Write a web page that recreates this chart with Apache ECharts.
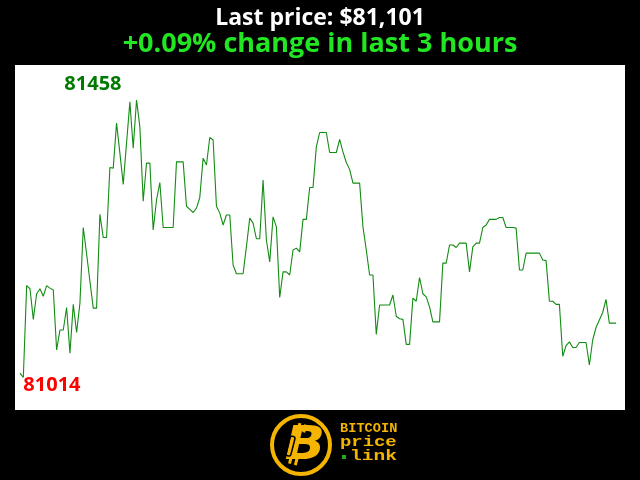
<!DOCTYPE html>
<html>
<head>
<meta charset="utf-8">
<script src="https://cdn.jsdelivr.net/npm/echarts@6/dist/echarts.min.js"></script>
<style>html,body{margin:0;padding:0;background:#000;}#chart{width:640px;height:480px;}</style>
</head>
<body>
<div id="chart"></div>
<script>
// Title texts
const titleLine1 = 'Last price: $81,101';
const titleLine2 = '+0.09% change in last 3 hours';

// Price samples (one per minute over last 3 hours)
const prices = [
81021,81014,81161,81156,81107,81148,81156,81144,81161,81157,
81154,81058,81090,81090,81126,81053,81131,81086,81133,81254,
81212,81168,81125,81125,81275,81238,81238,81350,81349,81421,
81373,81323,81389,81455,81381,81458,81415,81296,81357,81357,
81250,81298,81326,81254,81254,81254,81254,81359,81359,81359,
81288,81283,81278,81285,81302,81365,81354,81398,81394,81288,
81277,81258,81274,81274,81194,81180,81180,81180,81223,81269,
81261,81236,81236,81330,81234,81199,81271,81255,81142,81183,
81183,81178,81218,81221,81215,81267,81267,81318,81318,81383,
81406,81406,81406,81374,81374,81374,81395,81375,81358,81347,
81325,81325,81325,81255,81218,81178,81178,81083,81130,81130,
81130,81130,81146,81112,81108,81107,81067,81067,81141,81136,
81174,81148,81143,81127,81103,81103,81103,81197,81197,81226,
81226,81222,81229,81229,81229,81183,81223,81229,81229,81254,
81258,81267,81267,81267,81270,81270,81254,81254,81254,81253,
81186,81186,81213,81213,81213,81213,81213,81202,81201,81136,
81136,81131,81131,81048,81065,81071,81062,81062,81070,81070,
81070,81034,81074,81094,81106,81118,81139,81101,81101,81101
];

const seriesData = prices.map((v, i) => [i, v]);

const chart = echarts.init(document.getElementById('chart'), null, {renderer: 'canvas'});
const gold = '#f4b400';
chart.setOption({
  backgroundColor: '#000000',
  animation: false,
  title: [
    {text: titleLine1, left: 'center', top: 2,
     textStyle: {color: '#ffffff', fontSize: 23, fontWeight: 'bold', fontFamily: 'Open Sans'}},
    {text: titleLine2, left: 'center', top: 26,
     textStyle: {color: '#22e622', fontSize: 27, fontWeight: 'bold', fontFamily: 'Open Sans'}}
  ],
  grid: {left: 15, right: 15, top: 65, bottom: 70, show: true, backgroundColor: '#ffffff', borderWidth: 0},
  xAxis: {type: 'value', min: -1.5, max: 181.7, show: false, splitLine: {show: false}},
  yAxis: {type: 'value', min: 80962, max: 81514, show: false, splitLine: {show: false}},
  series: [{
    type: 'line',
    data: seriesData,
    showSymbol: false,
    symbol: 'none',
    lineStyle: {color: '#138c13', width: 1.1},
    markPoint: {
      symbol: 'circle',
      symbolSize: 0,
      data: [
        {type: 'max', label: {show: true, position: 'inside', align: 'right', verticalAlign: 'middle',
          offset: [-15, -16], color: '#007a00', fontSize: 20, fontWeight: 'bold', fontFamily: 'Open Sans',
          formatter: p => String(p.value)}},
        {type: 'min', label: {show: true, position: 'inside', align: 'left', verticalAlign: 'middle',
          offset: [0, 8], color: '#ff0000', fontSize: 20, fontWeight: 'bold', fontFamily: 'Open Sans',
          formatter: p => String(p.value)}}
      ]
    }
  }],
  graphic: [
    {type: 'circle', shape: {cx: 301, cy: 445, r: 29}, style: {fill: '#000', stroke: gold, lineWidth: 4}},
    {type: 'rect', shape: {x: 293, y: 424, width: 3, height: 8}, style: {fill: gold}, rotation: -0.25, originX: 301, originY: 445},
    {type: 'rect', shape: {x: 299, y: 424, width: 3, height: 8}, style: {fill: gold}, rotation: -0.25, originX: 301, originY: 445},
    {type: 'rect', shape: {x: 293, y: 458, width: 3, height: 8}, style: {fill: gold}, rotation: -0.25, originX: 301, originY: 445},
    {type: 'rect', shape: {x: 299, y: 458, width: 3, height: 8}, style: {fill: gold}, rotation: -0.25, originX: 301, originY: 445},
    {type: 'text', x: 305, y: 447, scaleX: 1.15, originX: 0, originY: 0, style: {text: 'B', fill: gold, font: 'italic bold 46px "DejaVu Sans"', textAlign: 'center', textVerticalAlign: 'middle'}},
    {type: 'rect', shape: {x: 288, y: 436, width: 5, height: 20, r: 2}, style: {fill: 'none', stroke: '#000', lineWidth: 1.5}, rotation: -0.25, originX: 290, originY: 446},
    {type: 'text', x: 340, y: 429, scaleX: 1.05, originX: 0, originY: 0, style: {text: 'BITCOIN', fill: gold, font: 'bold 13px "Liberation Mono"', textVerticalAlign: 'middle'}},
    {type: 'text', x: 340, y: 442, scaleX: 1.35, originX: 0, originY: 0, style: {text: 'price', fill: gold, font: 'bold 14px "Liberation Mono"', textVerticalAlign: 'middle'}},
    {type: 'rect', shape: {x: 342, y: 455, width: 4, height: 4}, style: {fill: '#22aa22'}},
    {type: 'text', x: 350, y: 456, scaleX: 1.4, originX: 0, originY: 0, style: {text: 'link', fill: gold, font: 'bold 14px "Liberation Mono"', textVerticalAlign: 'middle'}}
  ]
});
</script>
</body>
</html>
